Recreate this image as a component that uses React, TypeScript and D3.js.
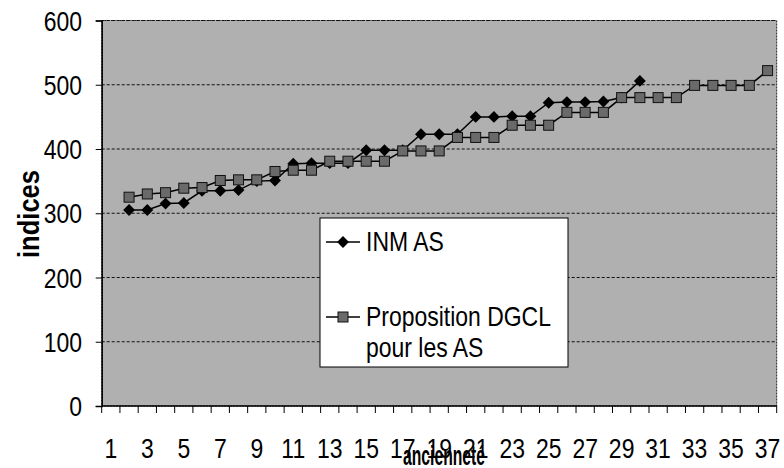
import React, { useEffect, useRef } from "react";
import * as d3 from "d3";

// anciennete (echelons) on the x axis
const categories = [
  "1", "2", "3", "4", "5", "6", "7", "8", "9", "10", "11", "12", "13",
  "14", "15", "16", "17", "18", "19", "20", "21", "22", "23", "24", "25",
  "26", "27", "28", "29", "30", "31", "32", "33", "34", "35", "36", "37",
];
const xTickLabels = [
  "1", "3", "5", "7", "9", "11", "13", "15", "17", "19", "21", "23", "25",
  "27", "29", "31", "33", "35", "37",
];
const yTicks = [0, 100, 200, 300, 400, 500, 600];

const inmAS: (number | null)[] = [
  null, 305, 305, 315, 316, 335, 335, 336, 350, 351, 377, 378, 378, 378,
  398, 398, 398, 423, 423, 423, 450, 450, 451, 451, 472, 473, 473, 474,
  480, 506, null, null, null, null, null, null, null,
];
const propositionDGCL: (number | null)[] = [
  null, 325, 330, 332, 339, 340, 351, 352, 352, 365, 367, 367, 381, 381,
  381, 381, 397, 397, 397, 418, 418, 418, 437, 437, 437, 457, 457, 457,
  480, 480, 480, 480, 499, 499, 499, 499, 522,
];

const FONT = "'Liberation Sans', Arial, sans-serif";
const NARROW = 0.82; // no Arial Narrow here, so squeeze Liberation Sans

const App = () => {
  const svgRef = useRef<SVGSVGElement>(null);

  useEffect(() => {
    const width = 784;
    const height = 468;
    const plot = { left: 101.7, right: 776.7, top: 20.5, bottom: 406 };

    const svg = d3.select(svgRef.current)
      .attr("width", width)
      .attr("height", height);
    svg.selectAll("*").remove();

    // narrow text at (x, y)
    const narrowText = (g: any, x: number, y: number, s: string, anchor = "start") =>
      g.append("text")
        .attr("transform", `translate(${x},${y}) scale(${NARROW},1)`)
        .attr("text-anchor", anchor)
        .attr("font-family", FONT)
        .attr("font-size", 28)
        .attr("fill", "#000")
        .text(s);

    const xScale = d3.scaleBand<string>()
      .domain(categories)
      .range([plot.left, plot.right])
      .padding(0);
    const yScale = d3.scaleLinear()
      .domain([0, 600])
      .range([plot.bottom, plot.top]);
    const cx = (i: number) => (xScale(categories[i]) as number) + xScale.bandwidth() / 2;

    // plot area background
    svg.append("rect")
      .attr("x", plot.left)
      .attr("y", plot.top)
      .attr("width", plot.right - plot.left)
      .attr("height", plot.bottom - plot.top)
      .attr("fill", "#b0b0b0")
      .attr("stroke", "#222")
      .attr("stroke-dasharray", "2,1");

    // gridlines
    svg.append("g")
      .selectAll("line")
      .data(yTicks.slice(1))
      .enter()
      .append("line")
      .attr("x1", plot.left)
      .attr("x2", plot.right)
      .attr("y1", d => yScale(d))
      .attr("y2", d => yScale(d))
      .attr("stroke", "#111")
      .attr("stroke-dasharray", "3,2");

    // y axis
    const yAxis = d3.axisLeft(yScale).tickValues(yTicks).tickSize(6).tickFormat(() => "");
    const gy = svg.append("g")
      .attr("transform", `translate(${plot.left},0)`)
      .call(yAxis);
    gy.select(".domain").attr("stroke", "#000").attr("stroke-width", 1.5);
    const yLabels = svg.append("g");
    yTicks.forEach(t => narrowText(yLabels, 82, yScale(t) + 10, String(t), "end"));

    // x axis: ticks on band boundaries, labels on odd categories
    svg.append("line")
      .attr("x1", plot.left)
      .attr("x2", plot.right)
      .attr("y1", plot.bottom)
      .attr("y2", plot.bottom)
      .attr("stroke", "#000")
      .attr("stroke-width", 1.5);
    const boundaries = categories.map(c => xScale(c) as number).concat([plot.right]);
    svg.append("g")
      .selectAll("line")
      .data(boundaries)
      .enter()
      .append("line")
      .attr("x1", d => d)
      .attr("x2", d => d)
      .attr("y1", plot.bottom)
      .attr("y2", plot.bottom + 7)
      .attr("stroke", "#000");
    const xLabels = svg.append("g");
    xTickLabels.forEach(c =>
      narrowText(xLabels, (xScale(c) as number) + xScale.bandwidth() / 2, 458, c, "middle"));

    // axis titles
    svg.append("text")
      .attr("transform", "translate(39,214) rotate(-90)")
      .attr("text-anchor", "middle")
      .attr("font-family", FONT)
      .attr("font-weight", "bold")
      .attr("font-size", 29)
      .attr("textLength", 88)
      .attr("lengthAdjust", "spacingAndGlyphs")
      .text("indices");
    svg.append("text")
      .attr("x", 444)
      .attr("y", 465)
      .attr("text-anchor", "middle")
      .attr("font-family", FONT)
      .attr("font-weight", "bold")
      .attr("font-size", 27)
      .attr("textLength", 82)
      .attr("lengthAdjust", "spacingAndGlyphs")
      .text("ancienneté");

    const line = d3.line<number | null>()
      .defined(d => d !== null)
      .x((d, i) => cx(i))
      .y(d => yScale(d as number));

    const diamond = d3.symbol().type(d3.symbolDiamond2).size(90);

    // INM AS
    svg.append("path")
      .datum(inmAS)
      .attr("d", line)
      .attr("fill", "none")
      .attr("stroke", "#000")
      .attr("stroke-width", 1.5);
    svg.append("g")
      .selectAll("path")
      .data(inmAS.map((v, i) => ({ v, i })).filter(d => d.v !== null))
      .enter()
      .append("path")
      .attr("d", diamond)
      .attr("transform", d => `translate(${cx(d.i)},${yScale(d.v as number)})`)
      .attr("fill", "#000");

    // Proposition DGCL
    svg.append("path")
      .datum(propositionDGCL)
      .attr("d", line)
      .attr("fill", "none")
      .attr("stroke", "#000")
      .attr("stroke-width", 1.5);
    svg.append("g")
      .selectAll("rect")
      .data(propositionDGCL.map((v, i) => ({ v, i })).filter(d => d.v !== null))
      .enter()
      .append("rect")
      .attr("x", d => cx(d.i) - 5)
      .attr("y", d => yScale(d.v as number) - 5)
      .attr("width", 10)
      .attr("height", 10)
      .attr("fill", "#6a6a6a")
      .attr("stroke", "#111");

    // legend
    const legend = svg.append("g").attr("transform", "translate(320,218)");
    legend.append("rect")
      .attr("width", 248)
      .attr("height", 149)
      .attr("fill", "#fff")
      .attr("stroke", "#000");
    legend.append("line")
      .attr("x1", 6).attr("x2", 40).attr("y1", 24).attr("y2", 24)
      .attr("stroke", "#000").attr("stroke-width", 1.5);
    legend.append("path")
      .attr("d", diamond)
      .attr("transform", "translate(23,24)")
      .attr("fill", "#000");
    narrowText(legend, 46, 33, "INM AS");
    legend.append("line")
      .attr("x1", 6).attr("x2", 40).attr("y1", 99).attr("y2", 99)
      .attr("stroke", "#000").attr("stroke-width", 1.5);
    legend.append("rect")
      .attr("x", 18).attr("y", 94).attr("width", 10).attr("height", 10)
      .attr("fill", "#6a6a6a").attr("stroke", "#111");
    narrowText(legend, 46, 108, "Proposition DGCL");
    narrowText(legend, 46, 139, "pour les AS");
  }, []);

  return (
    <div style={{ position: "absolute", left: 0, top: 0 }}>
      <svg ref={svgRef}></svg>
    </div>
  );
};

export default App;
